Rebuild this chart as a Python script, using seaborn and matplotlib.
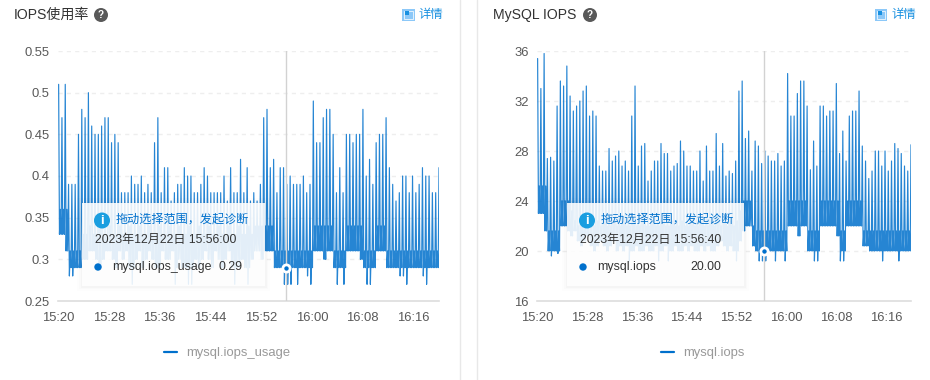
import numpy as np
import pandas as pd
import matplotlib
matplotlib.use("Agg")
import matplotlib.pyplot as plt
from matplotlib.patches import Rectangle, Circle
import seaborn as sns

x_labels = ["15:20", "15:28", "15:36", "15:44", "15:52", "16:00", "16:08", "16:16"]

usage_ticks = [0.25, 0.3, 0.35, 0.4, 0.45, 0.5, 0.55]
usage_tick_labels = ["0.25", "0.3", "0.35", "0.4", "0.45", "0.5", "0.55"]
iops_ticks = [16, 20, 24, 28, 32, 36]
iops_tick_labels = ["16", "20", "24", "28", "32", "36"]

# one peak, then the mid and low levels that follow it, every ~31 s
usage_peaks = [
    .51, .47, .51, .39, .39, .39, .45, .48, .47, .50,
    .46, .45, .45, .46, .47, .47, .44, .45, .44, .38,
    .38, .38, .40, .39, .39, .40, .38, .39, .38, .44,
    .47, .38, .41, .41, .37, .38, .39, .39, .41, .40,
    .40, .38, .38, .39, .41, .40, .38, .38, .38, .38,
    .40, .37, .41, .38, .38, .42, .38, .41,
    .37, .38, .37, .39, .47, .48, .41, .42, .38, .41,
    .41, .39, .40, .39, .39, .39, .40, .38, .39, .49,
    .44, .44, .47, .48, .48, .45, .38, .41, .38, .45,
    .45, .44, .45, .45, .48, .40, .42, .39, .44, .45,
    .45, .47, .41, .39, .37, .38, .40, .40, .38, .40,
    .38, .39, .41, .40, .40, .38, .38, .41,
]
usage_lows = [
    .33, .33, .31, .28, .28, .29, .29, .30,
    .30, .31, .31, .30, .29, .30, .31, .31, .30, .29,
    .31, .30, .31, .29, .27, .30, .31, .29, .30, .31,
    .30, .29, .29, .31, .30, .30, .31, .27, .30, .29,
    .29, .27, .27, .30, .29, .30, .31, .30, .29, .31,
    .30, .29, .30, .31, .29, .27, .29, .30, .29, .27,
    .30, .31, .31, .30, .31,
    .31, .31,
    .29, .29, .29, .27, .27, .27, .29, .27, .29, .29, .28, .27,
    .31, .31, .31, .30, .31, .31,
    .29, .27, .29, .27,
    .31, .31, .31, .31, .30,
    .29, .27, .27, .29,
    .31, .31, .31,
    .29, .29, .29, .29, .28, .28, .27, .29, .29, .29, .29, .28, .27, .29, .29, .29, .30,
]
usage_mids = [
    .36, .36, .36, .31, .31, .31, .31, .33,
    .33, .34, .33, .33, .34, .33, .33, .34, .33, .33,
    .34, .33, .33, .34, .33, .33, .34, .33, .33, .34,
    .33, .33, .34, .33, .33, .34, .33, .33, .34, .33,
    .33, .34, .33, .33, .34, .33, .33, .34, .33, .33,
    .34, .33, .33, .34, .33, .33, .34, .33, .33, .34,
    .33, .34, .34, .34, .34,
    .34, .34,
    .31, .31, .31, .31, .31, .31, .31, .31, .31, .31, .31, .31,
    .34, .34, .34, .34, .34, .34,
    .31, .31, .31, .31,
    .34, .34, .34, .34, .34,
    .31, .31, .31, .31,
    .34, .34, .34,
    .31, .31, .31, .31, .31, .31, .31, .31, .31, .31, .31, .31, .31, .31, .31, .31, .31,
]

iops_peaks = [
    35.4, 33.0, 35.8, 27.4, 27.5, 27.2, 31.6, 33.6, 33.2, 34.8,
    32.4, 31.2, 31.6, 32.0, 32.8, 33.2, 30.8, 31.2, 30.8, 26.8,
    26.4, 26.4, 28.2, 27.2, 27.6, 28.0, 26.8, 27.2, 26.4, 30.8,
    33.2, 26.8, 28.4, 28.6, 25.6, 26.4, 27.2, 27.2, 28.6, 27.8,
    27.8, 26.4, 26.8, 27.0, 28.8, 28.0, 26.8, 26.8, 26.4, 26.4,
    28.0, 25.6, 28.4, 26.4, 26.4, 29.4, 26.8, 28.6, 26.0, 26.4,
    26.2, 27.2, 32.8, 33.6, 29.0, 29.6, 26.4, 28.8, 28.4, 27.0,
    28.0, 27.6, 27.2, 27.2, 27.8, 26.8, 27.2, 34.2, 30.8, 30.8,
    32.6, 33.6, 33.6, 31.6, 26.5, 28.8, 26.8, 31.6, 31.6, 30.8,
    31.2, 31.2, 33.4, 27.8, 29.6, 27.2, 30.8, 31.2, 31.2, 32.8,
    28.4, 27.2, 25.8, 26.4, 28.0, 28.0, 26.8, 28.0, 26.4, 27.2,
    28.6, 28.2, 27.8, 26.8, 26.4, 28.5,
]
iops_lows = [
    23.0, 23.0, 21.6, 20.0, 19.6, 20.0, 19.8, 22.0, 22.0,
    21.6, 21.2, 21.6, 20.8, 20.4, 20.8, 21.2, 20.4, 20.0, 20.4,
    20.8, 20.4, 20.0, 20.4, 20.8, 20.0, 20.4, 20.0, 20.4, 19.2,
    20.0, 20.4, 20.0, 20.0, 20.4, 20.0, 20.0, 20.4, 19.2, 20.0,
    20.4, 19.2, 20.0, 20.4, 20.0, 20.0, 20.4, 20.0, 20.4, 20.0,
    20.0, 20.4, 20.0, 20.4, 20.0, 20.0, 20.4, 20.8, 20.4, 20.0,
    20.4, 20.0, 19.2, 20.8, 21.6,
    22.0, 22.0, 20.4,
    20.0, 19.2, 19.2, 19.2, 20.0, 20.0, 19.2, 20.0, 20.0, 19.2,
    22.0, 22.0, 22.0, 21.2, 22.0, 22.0,
    20.0, 20.0, 19.2, 19.2,
    22.0, 22.0, 22.0, 22.0, 22.0, 21.2,
    19.2, 19.2,
    22.0, 22.0, 22.0, 22.0, 22.0,
    20.4, 20.4, 20.0, 20.0, 20.0, 20.0, 19.2, 20.0, 20.0, 20.0, 20.0, 19.2, 20.0, 20.0, 20.0, 20.0,
]
iops_mids = [
    25.2, 25.2, 25.2, 21.6, 21.6, 21.6, 21.6, 24.0, 24.0,
    24.0, 23.2, 22.4, 22.0, 22.4, 22.0, 22.4, 22.0, 22.0, 22.4,
    22.0, 22.4, 22.0, 22.0, 22.4, 22.0, 22.0, 22.4, 22.0, 22.0,
    22.4, 22.0, 22.0, 22.4, 22.0, 22.0, 22.4, 22.0, 22.0, 22.4,
    22.0, 22.0, 22.4, 22.0, 22.0, 22.4, 22.0, 22.0, 22.4, 22.0,
    22.0, 22.4, 22.0, 22.0, 22.4, 22.0, 22.4, 22.0, 22.4, 22.0,
    22.4, 22.0, 22.4, 23.2, 24.0,
    24.0, 24.0, 22.0,
    21.6, 21.6, 21.6, 21.6, 21.6, 21.6, 21.6, 21.6, 21.6, 21.6,
    24.0, 24.0, 24.0, 24.0, 24.0, 24.0,
    21.6, 21.6, 21.6, 21.6,
    24.0, 24.0, 24.0, 24.0, 24.0, 24.0,
    21.6, 21.6,
    24.0, 24.0, 24.0, 24.0, 24.0,
    21.6, 21.6, 21.6, 21.6, 21.6, 21.6, 21.6, 21.6, 21.6, 21.6, 21.6, 21.6, 21.6, 21.6, 21.6, 21.6,
]

BLUE = "#0070cc"
TEXT = "#595959"
W, H = 930, 380

sns.set_theme(style="white")
plt.rcParams["font.family"] = ["Liberation Sans", "Noto Sans CJK SC"]
plt.rcParams["axes.unicode_minus"] = False

fig = plt.figure(figsize=(W / 100, H / 100), dpi=100)
FS = 13 * 0.72


def draw_chart(box, name, peaks, mids, lows, floor, ticks, tick_labels, hover_t, hover_v):
    left, top, width, height = box
    ax = fig.add_axes([left / W, 1 - (top + height) / H, width / W, height / H])

    step = 59.9 / (len(peaks) - 1)
    rows = []
    for i in range(len(peaks)):
        t = 0.1 + i * step
        # a dip below the usual floor only lasts one sample
        levels = [peaks[i], lows[i], mids[i], max(lows[i], floor)]
        for j in range(4):
            rows.append({"minute": t + j * step / 4, "value": levels[j]})
    df = pd.DataFrame(rows)

    sns.lineplot(data=df, x="minute", y="value", ax=ax, estimator=None, sort=False,
                 color=BLUE, linewidth=0.85, alpha=0.85, label=name)

    ax.set_xlim(0, 60)
    ax.set_ylim(ticks[0], ticks[-1])
    ax.set_xticks(np.arange(0, 60, 8))
    ax.set_xticklabels(x_labels)
    ax.set_yticks(ticks)
    ax.set_yticklabels(tick_labels)
    ax.set_xlabel("")
    ax.set_ylabel("")
    ax.tick_params(axis="x", length=3, width=1, color="#dddddd", labelsize=FS, labelcolor=TEXT, pad=4.8)
    ax.tick_params(axis="y", length=0, labelsize=FS, labelcolor=TEXT, pad=6)
    ax.grid(axis="y", color="#eeeeee", linewidth=1, linestyle=(0, (3, 3)))
    ax.set_axisbelow(True)
    ax.patch.set_alpha(0)
    for side in ["top", "right", "left"]:
        ax.spines[side].set_visible(False)
    ax.spines["bottom"].set_color("#dddddd")
    ax.spines["bottom"].set_linewidth(1.2)

    ax.axvline(hover_t, color="#d2d2d2", linewidth=1.0, zorder=3)
    sns.scatterplot(x=[hover_t], y=[hover_v], ax=ax, s=27, color=BLUE, edgecolor="white",
                    linewidth=2, zorder=5, clip_on=False, legend=False)

    leg = ax.legend(loc="center", bbox_to_anchor=((left + width / 2 - 21) / W, 1 - 353 / H),
                    bbox_transform=fig.transFigure, frameon=False, fontsize=FS,
                    handlelength=0.95, handletextpad=0.75, labelcolor="#999999")
    leg.get_lines()[0].set_linewidth(1.6)
    leg.get_lines()[0].set_alpha(1)
    return ax


draw_chart((58, 51, 381, 250), "mysql.iops_usage", usage_peaks, usage_mids, usage_lows, 0.29,
           usage_ticks, usage_tick_labels, 35.85, 0.29)
draw_chart((537, 51, 374, 250), "mysql.iops", iops_peaks, iops_mids, iops_lows, 20.0,
           iops_ticks, iops_tick_labels, 36.45, 20)

# card titles, icons and hover boxes sit on a pixel-sized overlay
ov = fig.add_axes([0, 0, 1, 1])
ov.set_xlim(0, W)
ov.set_ylim(H, 0)
ov.axis("off")
ov.patch.set_alpha(0)

ov.plot([460, 460], [0, H], color="#e8e8e8", linewidth=1)
ov.plot([476.5, 476.5], [0, H], color="#e8e8e8", linewidth=1)


def header(title, tx, qx, dx):
    ov.text(tx, 15, title, fontsize=14 * 0.72, color="#333333", va="center", ha="left", fontweight="medium")
    ov.add_patch(Circle((qx, 15), 7, color="#595959", lw=0))
    ov.text(qx, 15.3, "?", fontsize=7.2, color="white", va="center", ha="center", fontweight="bold")
    ov.add_patch(Rectangle((dx, 8.5), 12.5, 12.5, color="#8cc8f8", lw=0))
    ov.add_patch(Rectangle((dx + 2, 10.5), 8.5, 8.5, fill=False, edgecolor="#e3f2fd", lw=0.7))
    ov.add_patch(Rectangle((dx + 3, 11), 4, 3.5, color="#1890e0", lw=0))
    ov.text(dx + 17, 15, "详情", fontsize=FS * 0.95, color="#1890e0", va="center", ha="left")


header("IOPS使用率", 14, 101, 402)
header("MySQL IOPS", 492.5, 590, 874.5)


def tooltip(x0, x1, date, series, value, ix):
    for pad, a in [(5, 0.008), (3, 0.012), (1.5, 0.018)]:
        ov.add_patch(Rectangle((x0 - pad, 203 - pad), x1 - x0 + 2 * pad, 83 + 2 * pad,
                               color="black", alpha=a, lw=0))
    ov.add_patch(Rectangle((x0, 203), x1 - x0, 83, color="white", alpha=0.88, lw=0))
    ov.add_patch(Circle((ix, 220.5), 8, color="#1a9ee0", lw=0))
    ov.text(ix, 220.8, "i", fontsize=9.5, color="white", va="center", ha="center", fontweight="bold")
    ov.text(ix + 13.5, 220, "拖动选择范围，发起诊断", fontsize=FS * 0.93, color=BLUE, va="center", ha="left")
    ov.text(ix - 7.5, 240, date, fontsize=FS * 0.93, color="#333333", va="center", ha="left")
    ov.add_patch(Circle((ix - 4, 267), 3.7, color=BLUE, lw=0))
    ov.text(ix + 10, 267, series, fontsize=FS * 0.95, color="#333333", va="center", ha="left")
    ov.text(x1 - 22.5, 267, value, fontsize=FS * 0.95, color="#333333", va="center", ha="right")


tooltip(82, 265, "2023年12月22日 15:56:00", "mysql.iops_usage", "0.29", 102)
tooltip(567, 744, "2023年12月22日 15:56:40", "mysql.iops", "20.00", 587)

fig.savefig("out.png", dpi=100)
